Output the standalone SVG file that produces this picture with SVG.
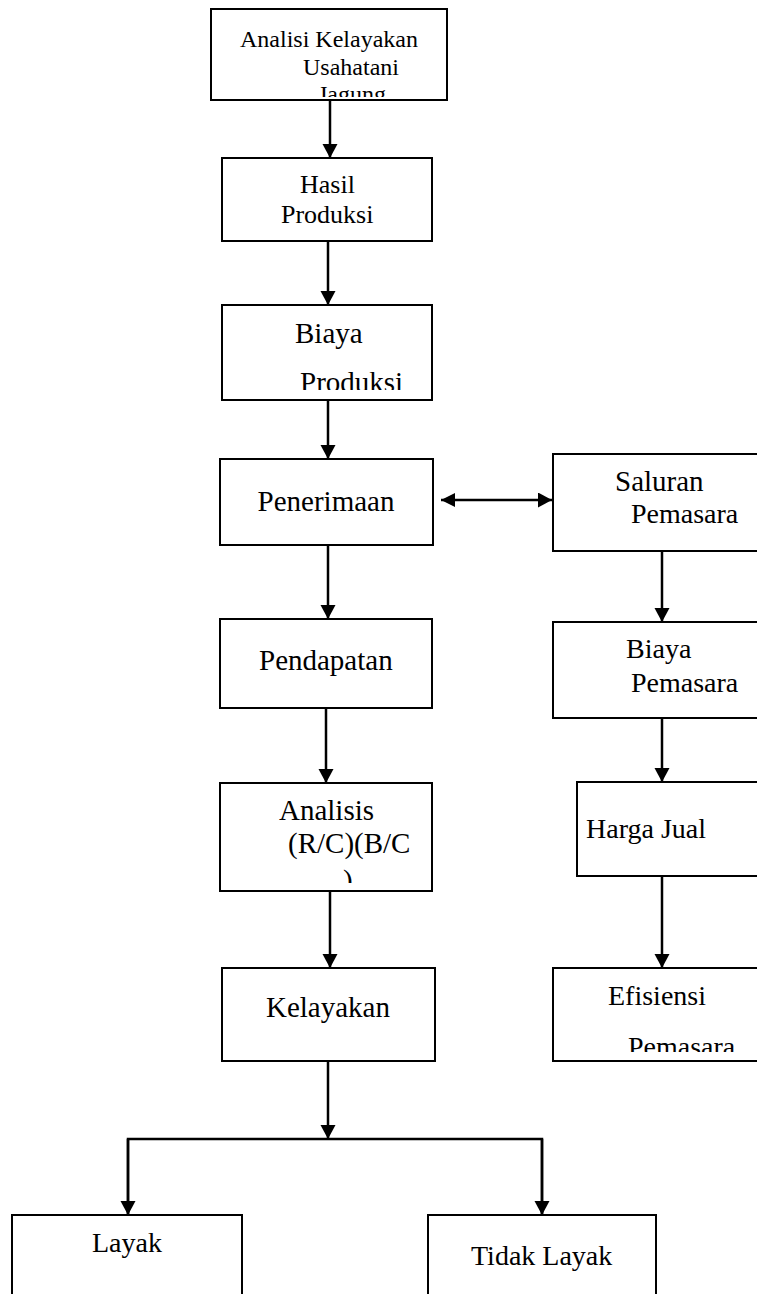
<svg xmlns="http://www.w3.org/2000/svg" width="757" height="1294" viewBox="0 0 757 1294">
<style>
.box{fill:#fff;stroke:#000;stroke-width:2}
.t{font-family:"Liberation Serif","Times New Roman",serif;fill:#000;font-size:29px}
.s24{font-size:24px}
.s26{font-size:26px}
.s28{font-size:28px}
.c{fill:none;stroke:#000;stroke-width:2.5}
</style>
<defs>
<marker id="ah" markerUnits="userSpaceOnUse" markerWidth="16" markerHeight="16" refX="14" refY="7.5" orient="auto">
<path d="M0,0 L14,7.5 L0,15 Z" fill="#000"/>
</marker>
<marker id="ahs" markerUnits="userSpaceOnUse" markerWidth="16" markerHeight="16" refX="0" refY="7" orient="auto">
<path d="M14,0 L0,7 L14,14 Z" fill="#000"/>
</marker>
<clipPath id="c0"><rect x="211" y="9" width="236" height="88"/></clipPath>
<clipPath id="c2"><rect x="222" y="305" width="210" height="85"/></clipPath>
<clipPath id="c6"><rect x="220" y="783" width="212" height="100"/></clipPath>
<clipPath id="c11"><rect x="553" y="968" width="206" height="84"/></clipPath>
</defs>

<g id="connectors">
<line class="c" x1="330" y1="100" x2="330" y2="158" marker-end="url(#ah)"/>
<line class="c" x1="328" y1="241" x2="328" y2="305" marker-end="url(#ah)"/>
<line class="c" x1="328" y1="400" x2="328" y2="459" marker-end="url(#ah)"/>
<line class="c" x1="328" y1="545" x2="328" y2="619" marker-end="url(#ah)"/>
<line class="c" x1="326" y1="708" x2="326" y2="783" marker-end="url(#ah)"/>
<line class="c" x1="330" y1="891" x2="330" y2="968" marker-end="url(#ah)"/>
<line class="c" x1="328" y1="1061" x2="328" y2="1139" marker-end="url(#ah)"/>
<polyline class="c" points="128,1215 128,1139 542,1139 542,1215"/>
<line class="c" x1="128" y1="1139" x2="128" y2="1215" marker-end="url(#ah)"/>
<line class="c" x1="542" y1="1139" x2="542" y2="1215" marker-end="url(#ah)"/>
<line class="c" x1="441" y1="500" x2="552" y2="500" marker-start="url(#ahs)" marker-end="url(#ah)"/>
<line class="c" x1="662" y1="551" x2="662" y2="622" marker-end="url(#ah)"/>
<line class="c" x1="662" y1="718" x2="662" y2="782" marker-end="url(#ah)"/>
<line class="c" x1="662" y1="876" x2="662" y2="968" marker-end="url(#ah)"/>
</g>

<g id="node-analisi">
<rect class="box" x="211" y="9" width="236" height="91"/>
<g clip-path="url(#c0)">
<text class="t s24" x="240" y="47">Analisi Kelayakan</text>
<text class="t s24" x="303" y="75">Usahatani</text>
<text class="t s24" x="318" y="102">Jagung</text>
</g>
</g>

<g id="node-hasil">
<rect class="box" x="222" y="158" width="210" height="83"/>
<text class="t s26" x="300" y="193">Hasil</text>
<text class="t s26" x="281" y="223">Produksi</text>
</g>

<g id="node-biaya-produksi">
<rect class="box" x="222" y="305" width="210" height="95"/>
<g clip-path="url(#c2)">
<text class="t" x="295" y="343">Biaya</text>
<text class="t" x="300" y="392">Produksi</text>
</g>
</g>

<g id="node-penerimaan">
<rect class="box" x="220" y="459" width="213" height="86"/>
<text class="t" x="326" y="511" text-anchor="middle">Penerimaan</text>
</g>

<g id="node-pendapatan">
<rect class="box" x="220" y="619" width="212" height="89"/>
<text class="t" x="259" y="670">Pendapatan</text>
</g>

<g id="node-analisis">
<rect class="box" x="220" y="783" width="212" height="108"/>
<g clip-path="url(#c6)">
<text class="t" x="279" y="820">Analisis</text>
<text class="t" x="288" y="853">(R/C)(B/C</text>
<text class="t" x="343" y="890">)</text>
</g>
</g>

<g id="node-kelayakan">
<rect class="box" x="222" y="968" width="213" height="93"/>
<text class="t" x="266" y="1017">Kelayakan</text>
</g>

<g id="node-layak">
<rect class="box" x="12" y="1215" width="230" height="90"/>
<text class="t s28" x="92" y="1252">Layak</text>
</g>

<g id="node-tidak-layak">
<rect class="box" x="428" y="1215" width="228" height="90"/>
<text class="t s28" x="471" y="1265">Tidak Layak</text>
</g>

<g id="node-saluran">
<rect class="box" x="553" y="454" width="206" height="97"/>
<text class="t" x="615" y="491">Saluran</text>
<text class="t s28" x="631" y="523">Pemasara</text>
</g>

<g id="node-biaya-pemasaran">
<rect class="box" x="553" y="622" width="206" height="96"/>
<text class="t s28" x="626" y="658">Biaya</text>
<text class="t s28" x="631" y="692">Pemasara</text>
</g>

<g id="node-harga-jual">
<rect class="box" x="577" y="782" width="182" height="94"/>
<text class="t s28" x="586" y="838">Harga Jual</text>
</g>

<g id="node-efisiensi">
<rect class="box" x="553" y="968" width="206" height="93"/>
<g clip-path="url(#c11)">
<text class="t s28" x="608" y="1005">Efisiensi</text>
<text class="t s28" x="628" y="1056">Pemasara</text>
</g>
</g>
</svg>
